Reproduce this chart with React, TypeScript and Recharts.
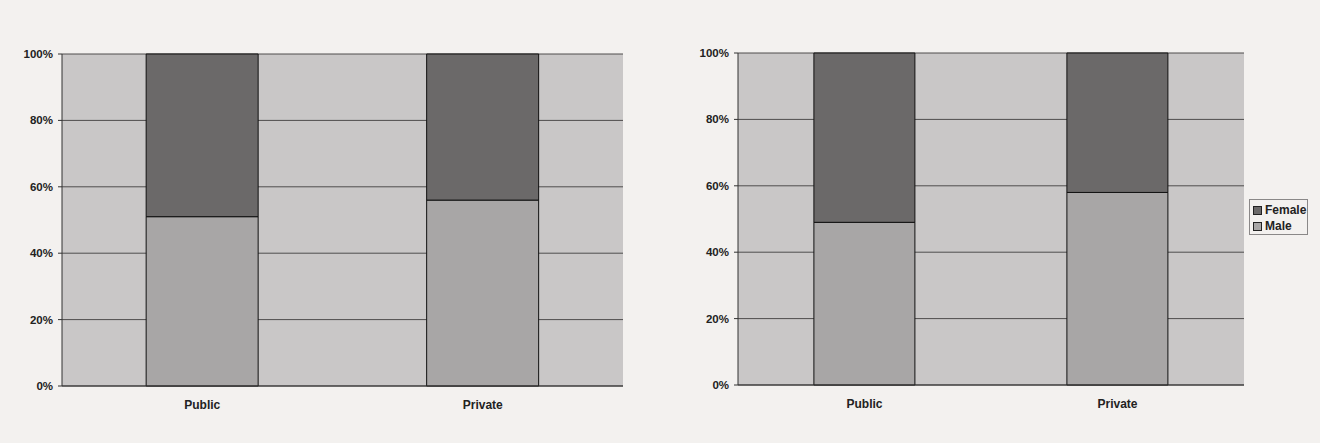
import { BarChart, Bar, XAxis, YAxis, CartesianGrid } from "recharts";

// Share of male / female by sector, two survey years side by side
const sectors = ["Public", "Private"];
const maleLeft = [51, 56];
const femaleLeft = [49, 44];
const maleRight = [49, 58];
const femaleRight = [51, 42];
const percentTicks = [0, 20, 40, 60, 80, 100];

const PAGE_BG = "#f3f1ef";
const PLOT_BG = "#c9c7c7";
const MALE = "#a8a6a6";
const FEMALE = "#6b6969";
const GRID = "#4f4d4d";
const FONT = "'Liberation Sans', Arial, sans-serif";

const buildRows = (male: number[], female: number[]) =>
  sectors.map((name, i) => ({ name, Male: male[i], Female: female[i] }));

interface PanelProps {
  rows: { name: string; Male: number; Female: number }[];
  width: number;
  margin: { top: number; right: number; bottom: number; left: number };
}

const SectorPanel = ({ rows, width, margin }: PanelProps) => (
  <BarChart
    width={width}
    height={443}
    data={rows}
    margin={margin}
    barCategoryGap="30%"
  >
    <CartesianGrid
      vertical={false}
      stroke={GRID}
      strokeWidth={1}
      fill={PLOT_BG}
      fillOpacity={1}
    />
    <XAxis
      dataKey="name"
      height={30}
      tickLine={false}
      tickSize={0}
      tickMargin={14}
      axisLine={{ stroke: "#333", strokeWidth: 1 }}
      tick={{ fill: "#222", fontSize: 12, fontWeight: 700, fontFamily: FONT }}
    />
    <YAxis
      width={62}
      domain={[0, 100]}
      ticks={percentTicks}
      tickFormatter={(v: number) => `${v}%`}
      tickSize={4}
      tickMargin={5}
      tickLine={{ stroke: "#333" }}
      axisLine={{ stroke: "#333", strokeWidth: 1 }}
      tick={{ fill: "#222", fontSize: 11.5, fontWeight: 700, fontFamily: FONT }}
    />
    <Bar
      dataKey="Male"
      stackId="s"
      fill={MALE}
      stroke="#111"
      strokeWidth={1}
      isAnimationActive={false}
    />
    <Bar
      dataKey="Female"
      stackId="s"
      fill={FEMALE}
      stroke="#111"
      strokeWidth={1}
      isAnimationActive={false}
    />
  </BarChart>
);

const legendItems = [
  { label: "Female", color: FEMALE },
  { label: "Male", color: MALE },
];

const SexLegend = () => (
  <div
    style={{
      position: "absolute",
      left: 1249,
      top: 199,
      width: 59,
      height: 36,
      border: "1px solid #8a8888",
      boxSizing: "border-box",
      padding: "2px 0 0 3px",
      fontFamily: FONT,
      fontSize: 12,
      fontWeight: 700,
      color: "#222",
    }}
  >
    {legendItems.map((it) => (
      <div
        key={it.label}
        style={{ display: "flex", alignItems: "center", height: 16, lineHeight: "16px" }}
      >
        <span
          style={{
            display: "inline-block",
            width: 7,
            height: 7,
            background: it.color,
            border: "1px solid #222",
            marginRight: 3,
          }}
        />
        {it.label}
      </div>
    ))}
  </div>
);

export default function App() {
  return (
    <div
      style={{
        position: "absolute",
        left: 0,
        top: 0,
        width: 1320,
        height: 443,
        background: PAGE_BG,
        overflow: "hidden",
      }}
    >
      <div style={{ position: "absolute", left: 0, top: 0 }}>
        <SectorPanel
          rows={buildRows(maleLeft, femaleLeft)}
          width={640}
          margin={{ top: 54, right: 17, bottom: 27, left: 0 }}
        />
      </div>
      <div style={{ position: "absolute", left: 660, top: 0 }}>
        <SectorPanel
          rows={buildRows(maleRight, femaleRight)}
          width={660}
          margin={{ top: 53, right: 76, bottom: 28, left: 16 }}
        />
      </div>
      <SexLegend />
    </div>
  );
}
